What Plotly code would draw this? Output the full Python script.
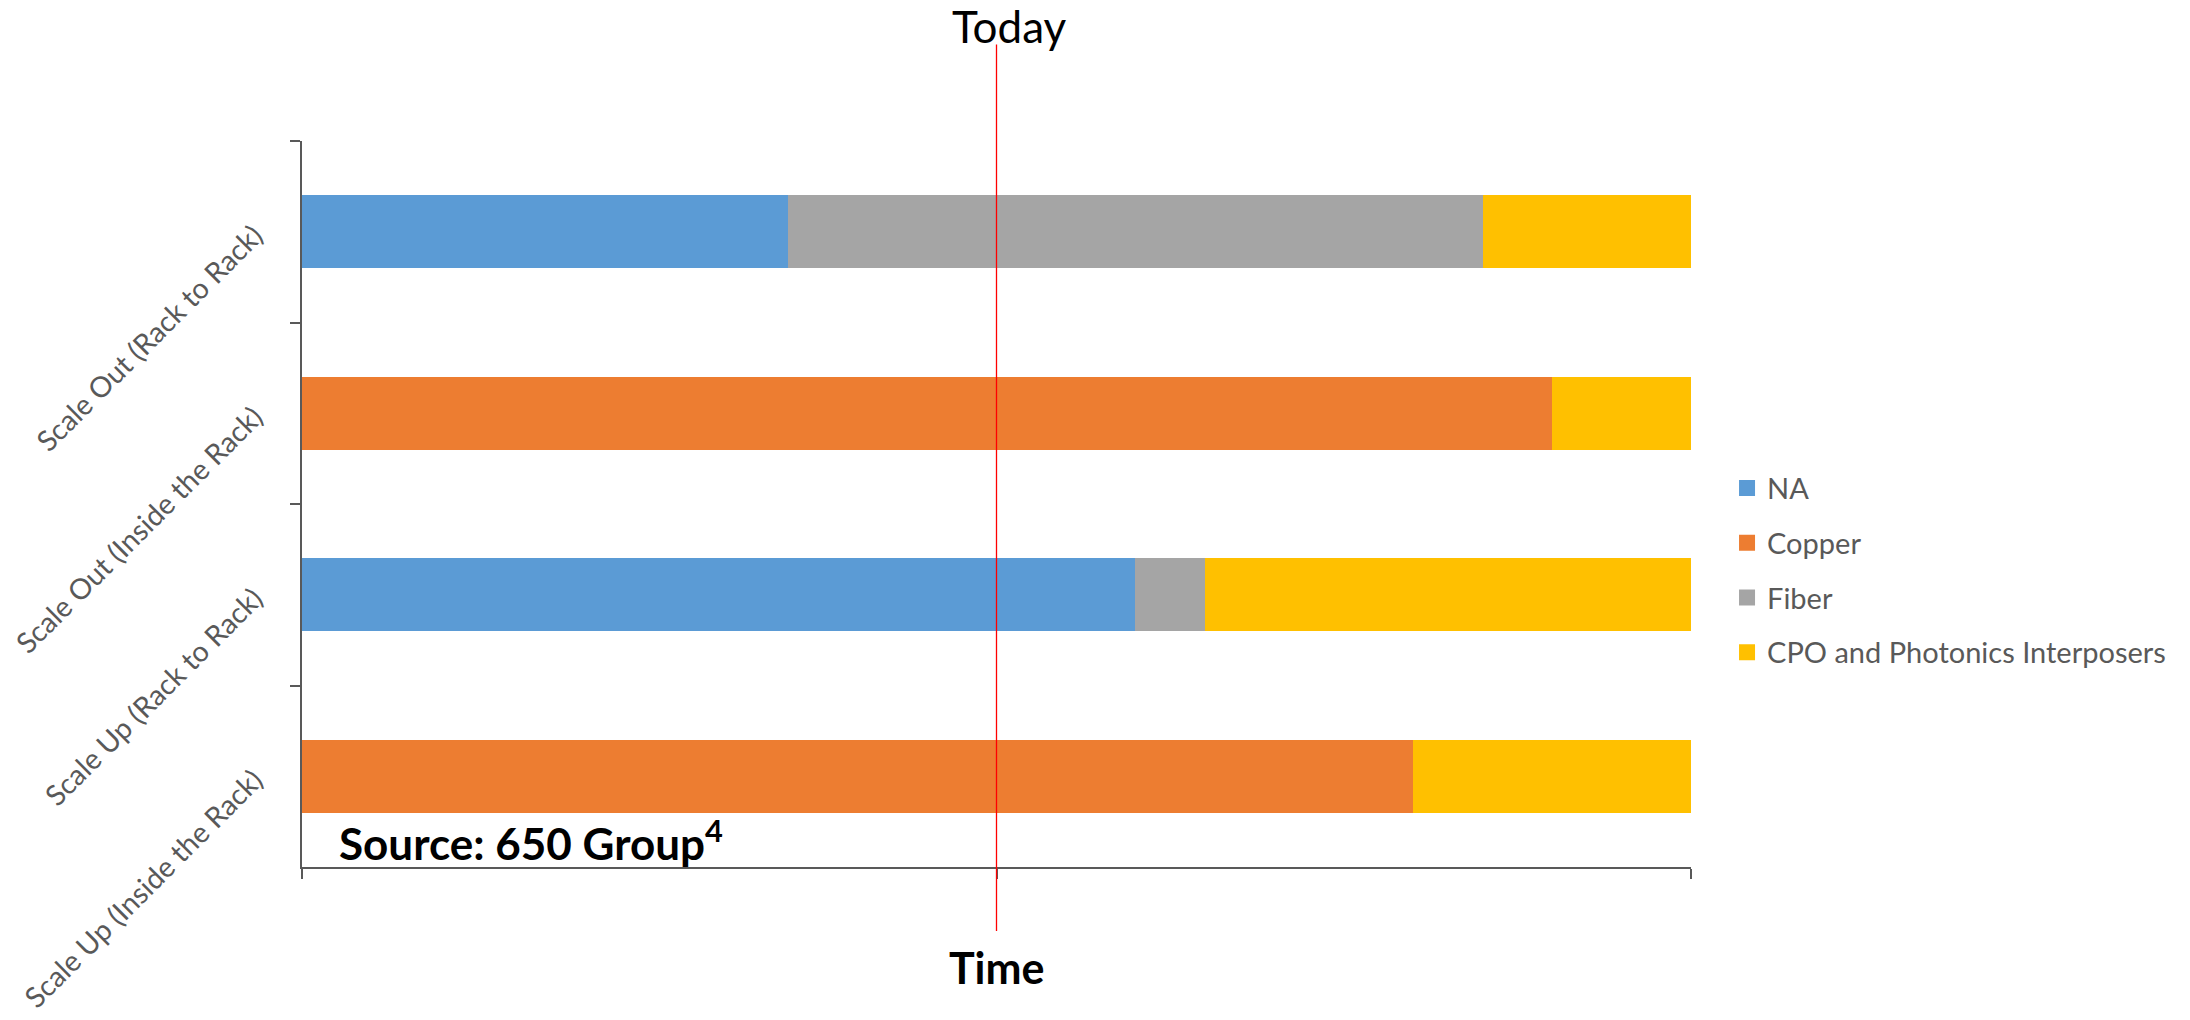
import plotly.graph_objects as go

# Interconnect technology share over time, by deployment segment
categories = [
    "Scale Out (Rack to Rack)",
    "Scale Out (Inside the Rack)",
    "Scale Up (Rack to Rack)",
    "Scale Up (Inside the Rack)",
]
na_vals = [35, 0, 60, 0]
copper_vals = [0, 90, 0, 80]
fiber_vals = [50, 0, 5, 0]
cpo_vals = [15, 10, 35, 20]

series_names = ["NA", "Copper", "Fiber", "CPO and Photonics Interposers"]
series_colors = ["#5B9BD5", "#ED7D31", "#A5A5A5", "#FFC000"]
series_values = [na_vals, copper_vals, fiber_vals, cpo_vals]

today_x = 50
time_ticks = [0, 50, 100]

FONT = "Lato"
GRAY = "#595959"

fig = go.Figure()

for name, color, vals in zip(series_names, series_colors, series_values):
    fig.add_trace(go.Bar(
        y=categories, x=vals, name=name, orientation="h",
        marker=dict(color=color, line=dict(width=0)),
        showlegend=False, hoverinfo="x+y+name",
    ))

# Legend entries with larger square swatches
for i, (name, color) in enumerate(zip(series_names, series_colors)):
    fig.add_trace(go.Scatter(
        x=[None], y=[None], mode="markers", name=name,
        legendgroup=f"g{i}",
        marker=dict(symbol="square", size=16, color=color),
    ))

# "Today" marker line
fig.add_shape(type="line", xref="x", yref="paper",
              x0=today_x, x1=today_x, y0=-0.088, y1=1.133,
              line=dict(color="#FF0000", width=1.3))

# paper y of the page top: plot spans 141..867 px of 1020
fig.add_annotation(x=today_x, xref="x", y=1.193, yref="paper",
                   yanchor="top", xshift=13, yshift=3, showarrow=False,
                   text="Today", font=dict(family=FONT, size=44, color="black"))

fig.add_annotation(x=today_x, xref="x", y=-0.139, yref="paper",
                   yanchor="middle", showarrow=False,
                   text="<b>Time</b>", font=dict(family=FONT, size=43, color="black"))

fig.add_annotation(x=0.025, xref="paper", y=0.037, yref="paper",
                   xanchor="left", yanchor="middle", showarrow=False,
                   text="<b>Source: 650 Group<sup>4</sup></b>",
                   font=dict(family=FONT, size=44, color="black"))

fig.update_layout(
    width=2190, height=1020,
    margin=dict(l=302, r=499, t=141, b=153, autoexpand=False),
    paper_bgcolor="white", plot_bgcolor="white",
    barmode="stack", bargap=0.6,
    font=dict(family=FONT, color=GRAY),
    legend=dict(
        xref="container", yref="container", x=0.7886, y=0.441,
        xanchor="left", yanchor="middle",
        traceorder="grouped", tracegroupgap=14,
        font=dict(family=FONT, size=29, color=GRAY),
        bgcolor="rgba(0,0,0,0)",
    ),
    xaxis=dict(
        range=[0, 100], tickvals=time_ticks, showticklabels=False,
        ticks="outside", ticklen=10, tickcolor=GRAY, tickwidth=1.5,
        showline=True, linecolor=GRAY, linewidth=1.5,
        showgrid=False, zeroline=False,
    ),
    yaxis=dict(
        categoryorder="array", categoryarray=categories, autorange="reversed",
        tickson="boundaries", ticks="outside", ticklen=10,
        tickcolor=GRAY, tickwidth=1.5, tickangle=-45, ticklabelstandoff=40,
        showline=True, linecolor=GRAY, linewidth=1.5,
        showgrid=False, zeroline=False,
        tickfont=dict(family=FONT, size=28.6, color=GRAY),
    ),
)

fig.write_html("out.html")
